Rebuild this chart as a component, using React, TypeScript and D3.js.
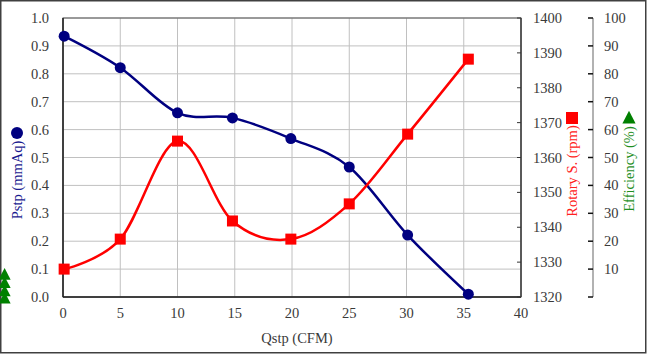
import React from "react";
import * as d3 from "d3";

const flowX = [0.1, 5.0, 10.0, 14.8, 19.9, 25.0, 30.1, 35.4];
const pstp = [0.935, 0.822, 0.66, 0.642, 0.568, 0.466, 0.222, 0.01];
const rotary = [1328.0, 1336.6, 1364.7, 1341.8, 1336.6, 1346.7, 1366.7, 1388.2];
const effX = [-5.1, -5.1, -5.1, -5.1];
const efficiency = [8, 5, 2, -0.6];

const xTicks = [0, 5, 10, 15, 20, 25, 30, 35, 40];
const pTicks = [0, 0.1, 0.2, 0.3, 0.4, 0.5, 0.6, 0.7, 0.8, 0.9, 1.0];
const rTicks = [1320, 1330, 1340, 1350, 1360, 1370, 1380, 1390, 1400];
const eTicks = [0, 10, 20, 30, 40, 50, 60, 70, 80, 90, 100];

const W = 647, H = 356;
const L = 63, R = 521, T = 18, B = 297;
const EAX = 593;
const FONT = "Liberation Serif, DejaVu Serif, serif";

export default function App() {
  const x = d3.scaleLinear().domain([0, 40]).range([L, R]);
  const yP = d3.scaleLinear().domain([0, 1]).range([B, T]);
  const yR = d3.scaleLinear().domain([1320, 1400]).range([B, T]);
  const yE = d3.scaleLinear().domain([0, 100]).range([B, T]);

  const curve = d3.curveCatmullRom.alpha(0);
  const pLine = d3.line<number>().x((_, i) => x(flowX[i])).y((d) => yP(d)).curve(curve);
  const rLine = d3.line<number>().x((_, i) => x(flowX[i])).y((d) => yR(d)).curve(curve);

  const tri = (cx: number, cy: number, s: number) =>
    `M${cx},${cy - s * 0.6}L${cx + s * 0.55},${cy + s * 0.45}L${cx - s * 0.55},${cy + s * 0.45}Z`;

  const textStyle = { fontFamily: FONT, fontSize: 14.5, fill: "#3a3a3a" } as const;

  return (
    <svg width={W} height={H} style={{ position: "absolute", left: 0, top: 0, background: "#fff" }}>
      <rect x={0.75} y={0.75} width={645} height={352} fill="#fff" stroke="#404040" strokeWidth={1.5} />
      {pTicks.map((t) => (
        <line key={"gy" + t} x1={L} x2={R} y1={yP(t)} y2={yP(t)} stroke="#c0c0c0" strokeWidth={1} />
      ))}
      {xTicks.map((t) => (
        <line key={"gx" + t} x1={x(t)} x2={x(t)} y1={T} y2={B} stroke="#c0c0c0" strokeWidth={1} />
      ))}
      <rect x={L} y={T} width={R - L} height={B - T} fill="none" stroke="#555" strokeWidth={1} />
      <line x1={L} x2={L} y1={T} y2={B} stroke="#222" strokeWidth={1.5} />
      <line x1={L} x2={R} y1={B} y2={B} stroke="#222" strokeWidth={1.5} />
      <line x1={R} x2={R} y1={T} y2={B} stroke="#444" strokeWidth={1.5} />
      {rTicks.map((t) => (
        <line key={"rt" + t} x1={R - 4} x2={R} y1={yR(t)} y2={yR(t)} stroke="#333" strokeWidth={1} />
      ))}
      <line x1={EAX} x2={EAX} y1={T} y2={B} stroke="#999" strokeWidth={1.5} />
      {eTicks.map((t) => (
        <line key={"et" + t} x1={EAX - 5} x2={EAX} y1={yE(t)} y2={yE(t)} stroke="#111" strokeWidth={1.5} />
      ))}
      {pTicks.map((t) => (
        <text key={"pl" + t} x={49} y={yP(t)} dy="0.35em" textAnchor="end" {...textStyle}>
          {t.toFixed(1)}
        </text>
      ))}
      {xTicks.map((t) => (
        <text key={"xl" + t} x={x(t)} y={318} textAnchor="middle" {...textStyle}>
          {t}
        </text>
      ))}
      {rTicks.map((t) => (
        <text key={"rl" + t} x={533} y={yR(t)} dy="0.35em" textAnchor="start" {...textStyle}>
          {t}
        </text>
      ))}
      {eTicks.filter((t) => t > 0).map((t) => (
        <text key={"el" + t} x={604} y={yE(t)} dy="0.35em" textAnchor="start" {...textStyle}>
          {t}
        </text>
      ))}
      <text x={297} y={343} textAnchor="middle" {...textStyle}>Qstp (CFM)</text>
      <text transform="translate(22,180) rotate(-90)" textAnchor="middle" fontFamily={FONT} fontSize={14.5} fill="#1a1a90">
        Pstp (mmAq)
      </text>
      <circle cx={17} cy={133} r={6} fill="#000080" />
      <text transform="translate(577,171) rotate(-90)" textAnchor="middle" fontFamily={FONT} fontSize={14.5} fill="#ff2020">
        Rotary S. (rpm)
      </text>
      <rect x={566} y={112} width={12} height={12} fill="#ff0000" />
      <text transform="translate(634,169) rotate(-90)" textAnchor="middle" fontFamily={FONT} fontSize={14.5} fill="#1f8f1f">
        Efficiency (%)
      </text>
      <path d={tri(629, 118, 12)} fill="#008000" />
      <path d={pLine(pstp) || ""} fill="none" stroke="#000080" strokeWidth={2.5} />
      <path d={rLine(rotary) || ""} fill="none" stroke="#ff0000" strokeWidth={2.5} />
      {pstp.map((v, i) => (
        <circle key={"pc" + i} cx={x(flowX[i])} cy={yP(v)} r={5.5} fill="#000080" />
      ))}
      {rotary.map((v, i) => (
        <rect key={"rs" + i} x={x(flowX[i]) - 5.5} y={yR(v) - 5.5} width={11} height={11} fill="#ff0000" />
      ))}
      {efficiency.map((v, i) => (
        <path key={"ef" + i} d={tri(x(effX[i]), yE(v), 11)} fill="#008000" />
      ))}
    </svg>
  );
}
